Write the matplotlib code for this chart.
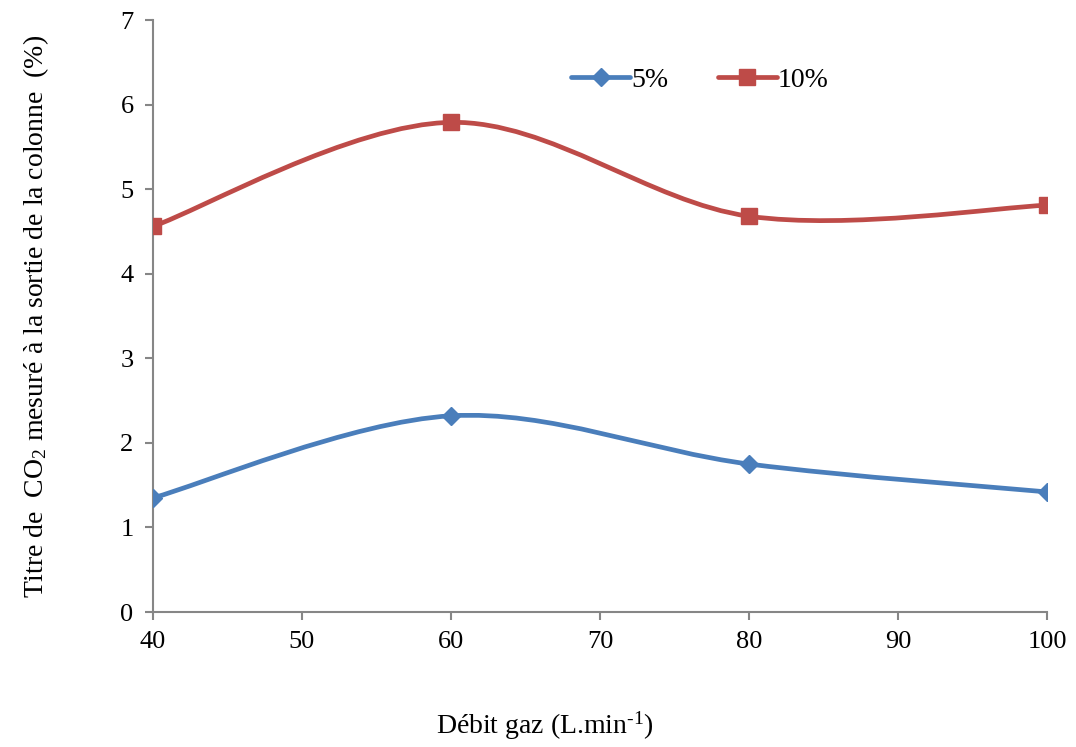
import matplotlib.pyplot as plt
from matplotlib.path import Path
from matplotlib.patches import PathPatch
from matplotlib.lines import Line2D

plt.rcParams['font.family'] = ['Liberation Serif', 'DejaVu Serif']
plt.rcParams['mathtext.fontset'] = 'custom'
plt.rcParams['mathtext.rm'] = 'Liberation Serif'
plt.rcParams['mathtext.it'] = 'Liberation Serif:italic'

# data
debit = [40, 60, 80, 100]
co2_5 = [1.35, 2.32, 1.75, 1.42]
co2_10 = [4.56, 5.79, 4.68, 4.81]

blue = '#4a7ebb'
red = '#be4b48'
grey = '#868686'


def smooth_path(x, y):
    # Excel-like smoothed line: cubic bezier through the points
    verts = [(x[0], y[0])]
    codes = [Path.MOVETO]
    n = len(x)
    for i in range(n - 1):
        x0, y0 = (x[i - 1], y[i - 1]) if i > 0 else (x[i], y[i])
        x3, y3 = (x[i + 2], y[i + 2]) if i + 2 < n else (x[i + 1], y[i + 1])
        c1 = (x[i] + (x[i + 1] - x0) / 6, y[i] + (y[i + 1] - y0) / 6)
        c2 = (x[i + 1] - (x3 - x[i]) / 6, y[i + 1] - (y3 - y[i]) / 6)
        verts += [c1, c2, (x[i + 1], y[i + 1])]
        codes += [Path.CURVE4] * 3
    return Path(verts, codes)


fig = plt.figure(figsize=(10.76, 7.47), dpi=100)
ax = fig.add_axes([0.1422, 0.1807, 0.8308, 0.7925])

for ys, col, mk, ms, lab in [(co2_5, blue, 'D', 9, '5%'), (co2_10, red, 's', 11.5, '10%')]:
    ax.add_patch(PathPatch(smooth_path(debit, ys), facecolor='none', edgecolor=col,
                           lw=3.4, capstyle='round', zorder=2))
    ax.plot(debit, ys, ls='none', marker=mk, ms=ms, color=col, zorder=3)

handles = [Line2D([], [], color=blue, lw=3.4, marker='D', ms=9, solid_capstyle='round'),
           Line2D([], [], color=red, lw=3.4, marker='s', ms=11.5, solid_capstyle='round')]
ax.legend(handles, ['5%', '10%'], loc='center left', bbox_to_anchor=(0.44, 0.898),
          ncol=2, frameon=False, fontsize=20, handlelength=2.1, handletextpad=0.05,
          columnspacing=1.8)

ax.set_xlim(40, 100)
ax.set_ylim(0, 7)
ax.set_xticks(range(40, 101, 10))
ax.set_yticks(range(0, 8))
for s in ['top', 'right']:
    ax.spines[s].set_visible(False)
for s in ['left', 'bottom']:
    ax.spines[s].set_color(grey)
    ax.spines[s].set_linewidth(1.5)
ax.tick_params(direction='out', length=6, width=1.5, color=grey, labelsize=19, pad=8)

ax.set_xlabel('Débit gaz (L.min$^{\\text{-1}}$)', fontsize=20, labelpad=38)
ax.xaxis.set_label_coords(0.4385, -0.165)
ax.set_ylabel('Titre de  CO$_{\\mathregular{2}}$ mesuré à la sortie de la colonne  (%)',
              fontsize=20, labelpad=50)

fig.savefig('out.png', dpi=100)
